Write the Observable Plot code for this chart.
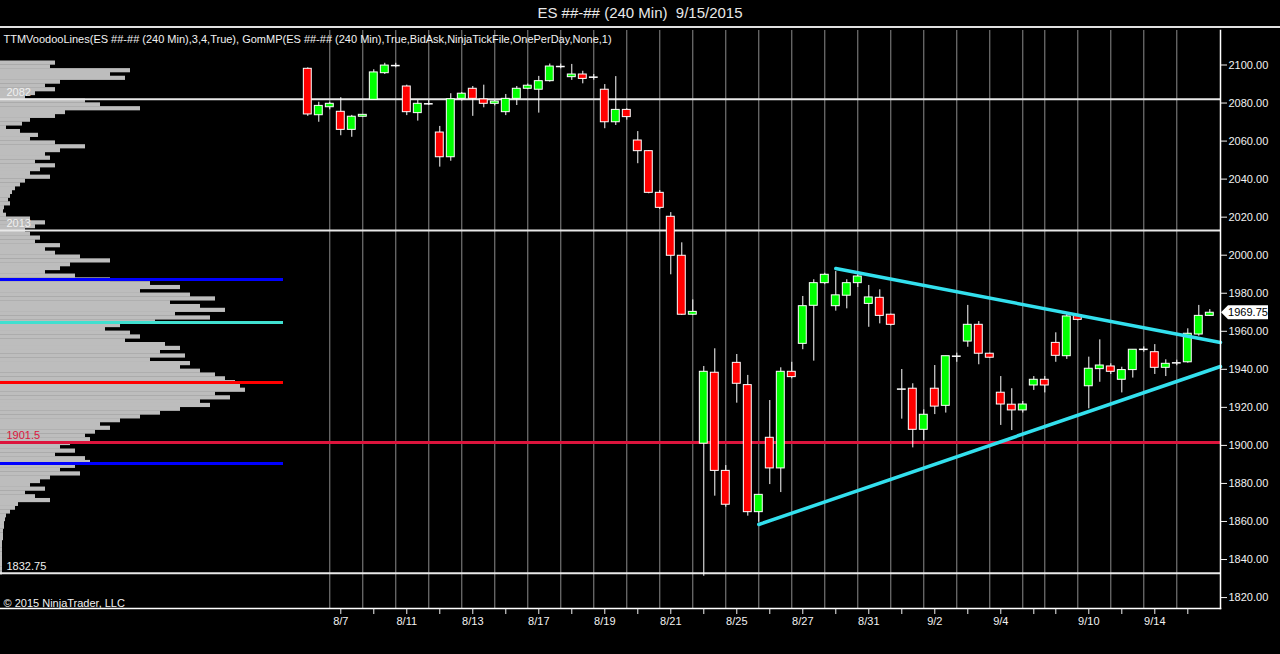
<!DOCTYPE html>
<html><head><meta charset="utf-8">
<script src="https://cdn.jsdelivr.net/npm/d3@7"></script>
<script src="https://cdn.jsdelivr.net/npm/@observablehq/plot@0.6"></script>
<style>
html,body{margin:0;padding:0;background:#000;width:1280px;height:654px;overflow:hidden;font-family:Arial,"Liberation Sans",sans-serif;}
#title{height:26px;line-height:26px;text-align:center;color:#e8e8e8;font-size:15px;border-bottom:2px solid #e0e0e0;white-space:pre;}
#chart{position:relative;width:1280px;height:626px;}
#chart svg{position:absolute;left:0;top:0;}
</style></head><body>
<div id="title">ES ##-## (240 Min)  9/15/2015</div>
<div id="chart"></div>
<script>
// ---- Candles (240 min bars), index 0..82 ----
const opens  = [2098.0,2073.6,2077.8,2075.4,2065.9,2072.8,2081.7,2095.7,2099.7,2088.7,
                2074.7,2079.6,2064.5,2051.5,2082.2,2087.5,2081.9,2079.6,2075.2,2082.2,
                2087.5,2087.0,2091.5,2099.2,2093.6,2095.0,2093.6,2087.0,2069.9,2076.4,
                2060.3,2054.7,2032.8,2020.2,1999.7,1968.7,1900.9,1938.2,1886.6,1943.4,
                1931.7,1864.9,1904.0,1887.9,1938.7,1953.4,1973.4,1985.3,1973.2,1978.7,
                1985.3,1974.4,1977.6,1968.7,1929.6,1929.8,1908.2,1929.8,1920.8,1946.9,
                1954.6,1963.4,1948.2,1927.7,1921.4,1918.4,1931.5,1934.5,1953.9,1946.9,
                1968.3,1931.1,1940.1,1941.5,1934.5,1939.6,1950.5,1949.0,1940.8,1943.4,
                1943.7,1958.3,1968.1];
const highs  = [2098.5,2080.4,2080.4,2082.8,2073.5,2074.0,2097.5,2100.9,2100.9,2089.4,
                2081.3,2081.3,2067.7,2084.9,2085.5,2088.7,2089.4,2081.3,2084.5,2088.7,
                2090.0,2094.0,2100.5,2100.5,2100.3,2096.7,2095.0,2089.7,2093.9,2077.0,
                2065.0,2055.0,2034.0,2022.4,2006.5,1976.5,1941.5,1950.8,1889.4,1947.8,
                1936.8,1874.0,1923.6,1940.8,1943.7,1978.3,1987.1,1990.5,1991.4,1987.1,
                1989.7,1984.1,1981.8,1969.0,1939.9,1932.4,1918.7,1942.0,1946.9,1948.5,
                1973.6,1965.1,1948.5,1936.2,1929.8,1923.1,1936.2,1936.2,1959.2,1968.8,
                1968.8,1946.4,1955.5,1942.9,1941.1,1950.3,1951.8,1953.0,1945.0,1944.8,
                1961.3,1973.6,1971.4];
const lows   = [2073.0,2069.9,2076.4,2062.8,2062.0,2072.5,2081.5,2095.0,2098.5,2073.4,
                2070.5,2078.7,2046.3,2049.4,2081.0,2073.0,2077.5,2078.5,2073.4,2078.7,
                2087.0,2074.7,2091.0,2098.0,2091.9,2090.1,2092.0,2066.5,2068.2,2071.0,
                2048.1,2032.3,2024.0,1989.7,1968.3,1968.3,1831.2,1873.3,1867.5,1922.2,
                1862.8,1859.6,1879.4,1875.2,1935.0,1950.3,1944.3,1984.5,1970.6,1971.8,
                1983.0,1962.1,1963.9,1962.8,1913.8,1898.7,1902.6,1916.2,1917.0,1943.7,
                1951.6,1942.4,1945.8,1910.5,1907.8,1917.0,1928.9,1927.6,1943.7,1945.2,
                1965.5,1919.2,1933.2,1937.3,1927.6,1935.4,1949.0,1937.3,1936.2,1941.9,
                1943.2,1957.4,1967.8];
const closes = [2074.0,2078.5,2079.6,2065.9,2072.8,2073.8,2096.1,2099.7,2099.7,2075.2,
                2079.6,2079.6,2051.5,2082.0,2084.9,2082.2,2079.6,2080.8,2082.2,2087.5,
                2089.1,2091.5,2099.2,2099.2,2095.0,2092.7,2093.6,2069.9,2076.4,2072.6,
                2054.7,2032.8,2024.9,1999.7,1968.7,1970.2,1938.7,1886.6,1868.8,1932.4,
                1864.9,1874.0,1887.9,1938.7,1935.9,1973.2,1985.3,1989.7,1978.9,1985.3,
                1988.8,1977.8,1968.1,1963.4,1929.6,1908.2,1916.1,1920.4,1946.9,1946.9,
                1963.4,1948.2,1946.1,1921.5,1918.4,1921.5,1934.5,1931.5,1947.1,1967.8,
                1966.0,1940.3,1942.0,1938.7,1939.6,1950.3,1950.5,1940.8,1942.9,1943.4,
                1958.7,1968.1,1969.75];

// ---- Time axis ----
const gridBars  = [2,5,8,11,14,17,20,23,26,29,32,35,38,41,44,47,50,53,56,59,62,65,67,70,73,76,79];
const tickBars  = [3,6,9,12,15,18,21,24,27,30,33,36,39,42,45,48,51,54,57,60,63,66,68,71,74,77,80];
const labelBars = [3,9,15,21,27,33,39,45,51,57,63,71,77];
const labelTexts = ["8/7","8/11","8/13","8/17","8/19","8/21","8/25","8/27","8/31","9/2","9/4","9/10","9/14"];

// ---- Price axis ----
const yTicks = [1820,1840,1860,1880,1900,1920,1940,1960,1980,2000,2020,2040,2060,2080,2100];

// ---- Levels ----
const whiteLevels = [2082, 2013, 1832.75];
const whiteLabels = ["2082", "2013", "1832.75"];
const pocLevel = 1901.5;
const pocLabel = "1901.5";
const voodooPrices = [1987.2, 1964.6, 1933.1, 1890.5];
const voodooColors = ["#0000ff", "#40e0d0", "#ff0000", "#0000ff"];
const voodooEnd = 283;

// ---- Trendlines (bar index, price) ----
const upperTrendBars = [48, 82.97], upperTrendPrices = [1993.0, 1954.1];
const lowerTrendBars = [41, 82.97], lowerTrendPrices = [1858.4, 1941.5];

// ---- Market profile (2-point bins) ----
const profilePrices = [2101,2099,2097,2095,2093,2091,2089,2087,2085,2083,
  2081,2079,2077,2075,2073,2071,2069,2067,2065,2063,
  2061,2059,2057,2055,2053,2051,2049,2047,2045,2043,
  2041,2039,2037,2035,2033,2031,2029,2027,2025,2023,
  2021,2019,2017,2015,2013,2011,2009,2007,2005,2003,
  2001,1999,1997,1995,1993,1991,1989,1987,1985,1983,
  1981,1979,1977,1975,1973,1971,1969,1967,1965,1963,
  1961,1959,1957,1955,1953,1951,1949,1947,1945,1943,
  1941,1939,1937,1935,1933,1931,1929,1927,1925,1923,
  1921,1919,1917,1915,1913,1911,1909,1907,1905,1903,
  1901,1899,1897,1895,1893,1891,1889,1887,1885,1883,
  1881,1879,1877,1875,1873,1871,1869,1867,1865,1863,
  1861,1859,1857,1855,1853,1851,1849,1847,1845,1843,
  1841,1839,1837,1835,1833];
const profileWidths = [55,50,130,110,125,60,45,55,35,25,
  85,100,140,65,55,30,22,6,20,38,
  30,55,85,60,45,50,35,55,40,30,
  50,25,20,15,12,10,8,10,4,3,
  6,30,45,35,25,30,40,35,60,45,
  55,80,110,70,60,45,75,110,150,180,
  140,190,215,170,200,225,175,210,155,120,
  105,130,140,125,165,180,160,185,150,190,
  180,200,215,225,235,240,245,215,230,200,
  210,180,160,140,120,100,110,95,85,90,
  70,60,75,55,85,90,75,60,80,50,
  40,30,45,25,35,50,18,15,10,6,
  5,4,4,3,3,3,2,2,2,2,
  2,2,2,2,2];

const titleText = "TTMVoodooLines(ES ##-## (240 Min),3,4,True), GomMP(ES ##-## (240 Min),True,BidAsk,NinjaTickFile,OnePerDay,None,1)";
const copyright = "\u00a9 2015 NinjaTrader, LLC";

// ---- Build tables ----
const bars = opens.map((o, i) => ({i, o, h: highs[i], l: lows[i], c: closes[i]}));
const bodies = bars.filter(d => d.o !== d.c);
const dojis = bars.filter(d => d.o === d.c);
const profile = profilePrices.map((p, k) => ({p, w: profileWidths[k]}));
const voodoo = voodooPrices.map((p, k) => ({price: p, color: voodooColors[k]}));
const levelTable = whiteLevels.map((p, k) => ({price: p, label: whiteLabels[k], color: "#f0f0f0"}))
  .concat([{price: pocLevel, label: pocLabel, color: "#dc143c"}]);
const upperTrend = upperTrendBars.map((b, k) => ({bar: b, price: upperTrendPrices[k]}));
const lowerTrend = lowerTrendBars.map((b, k) => ({bar: b, price: lowerTrendPrices[k]}));
const labelOf = new Map(labelBars.map((b, k) => [b, labelTexts[k]]));
const lastPrice = closes[closes.length - 1];

const W = 1280, H = 626;
const M = {marginLeft: 0, marginRight: 60, marginTop: 2, marginBottom: 46};
const yDomain = [1814.25, 2118.14];
const xDomain = [-27.936, 82.973];
const font = "Arial, 'Liberation Sans', sans-serif";

const profilePlot = Plot.plot({
  width: W, height: H, ...M,
  x: {domain: [0, 1220], axis: null},
  y: {domain: yDomain, axis: null},
  style: {background: "transparent"},
  marks: [
    Plot.rect(profile, {x1: 0, x2: "w", y1: d => d.p - 1.1, y2: d => d.p + 1.1, fill: "#bdbdbd"}),
    Plot.ruleY(voodoo, {y: "price", x1: 0, x2: voodooEnd, stroke: "color", strokeWidth: 3})
  ]
});

const mainPlot = Plot.plot({
  width: W, height: H, ...M,
  x: {domain: xDomain, axis: null},
  y: {domain: yDomain, axis: null},
  style: {background: "transparent", color: "#f2f2f2", fontFamily: font, fontSize: "11px"},
  marks: [
    Plot.ruleX(gridBars, {stroke: "#8c8c8c", strokeWidth: 1}),
    Plot.ruleY(whiteLevels, {stroke: "#e8e8e8", strokeWidth: 2}),
    Plot.ruleY([pocLevel], {stroke: "#dc143c", strokeWidth: 3}),
    Plot.text(levelTable, {x: xDomain[0], y: "price", text: "label", fill: "color", dx: 6, dy: -7, textAnchor: "start", fontSize: 11}),
    Plot.ruleX(bars, {x: "i", y1: "l", y2: "h", stroke: "#ffffff", strokeWidth: 1}),
    Plot.rect(bodies, {x1: d => d.i - 0.36, x2: d => d.i + 0.36, y1: "o", y2: "c",
      fill: d => d.c > d.o ? "#00ff00" : "#ff0000", stroke: "#ffffff", strokeWidth: 1}),
    Plot.ruleY(dojis, {y: "c", x1: d => d.i - 0.4, x2: d => d.i + 0.4, stroke: "#ffffff", strokeWidth: 1.5}),
    Plot.line(upperTrend, {x: "bar", y: "price", stroke: "#33e0ee", strokeWidth: 3.5}),
    Plot.line(lowerTrend, {x: "bar", y: "price", stroke: "#33e0ee", strokeWidth: 3.5}),
    Plot.frame({anchor: "bottom", stroke: "#ffffff", strokeWidth: 1.5}),
    Plot.frame({anchor: "right", stroke: "#ffffff", strokeWidth: 1.5}),
    Plot.axisY({anchor: "right", ticks: yTicks, tickFormat: d => d.toFixed(2), tickSize: 6, tickPadding: 2, fontSize: 11}),
    Plot.axisX({ticks: tickBars, tickFormat: d => labelOf.get(d) || "", tickSize: 6, tickPadding: 3, fontSize: 11}),
    Plot.text([titleText], {frameAnchor: "top-left", dx: 3, dy: 5, fontSize: 11, fill: "#f2f2f2"}),
    Plot.text([copyright], {frameAnchor: "bottom-left", dx: 3, dy: -2, fontSize: 11, fill: "#f2f2f2"}),
    (index, scales) => {
      const y = scales.y(lastPrice), x = scales.x(xDomain[1]);
      const g = d3.create("svg:g");
      g.append("polygon")
        .attr("points", `${x + 1},${y} ${x + 8},${y - 7} ${x + 48},${y - 7} ${x + 48},${y + 7} ${x + 8},${y + 7}`)
        .attr("fill", "#ffffff");
      g.append("text").attr("x", x + 28).attr("y", y).attr("dy", "0.35em")
        .attr("text-anchor", "middle").attr("fill", "#000").attr("font-size", 11)
        .attr("font-family", font).text(lastPrice.toFixed(2));
      return g.node();
    }
  ]
});

const chart = document.getElementById("chart");
chart.appendChild(profilePlot);
chart.appendChild(mainPlot);
</script>
</body></html>
